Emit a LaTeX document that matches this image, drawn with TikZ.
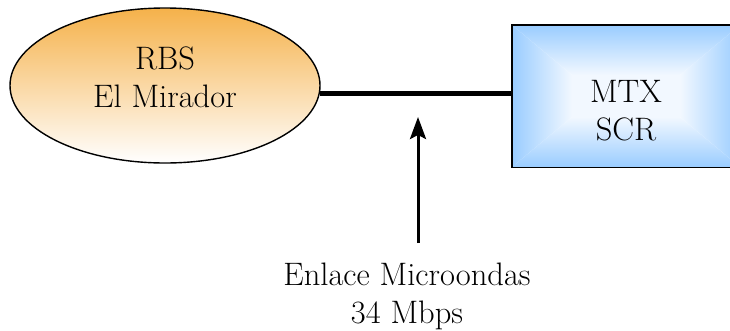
\documentclass[tikz,border=0pt]{standalone}
\usetikzlibrary{arrows.meta,shapes.geometric}
\definecolor{orangetop}{HTML}{F5B14A}
\definecolor{bluedge}{HTML}{99CCFF}
\definecolor{bluemid}{HTML}{F2F8FF}
\tikzset{
  lbl/.style={align=center,font=\rmfamily\fontsize{32.5}{38}\selectfont,inner sep=0pt},
  rbsshape/.style={ellipse,draw=black,line width=1.4pt,minimum width=310pt,minimum height=155pt,inner sep=0pt,top color=orangetop,bottom color=white},
  mtxshape/.style={rectangle,minimum width=228pt,minimum height=142pt,inner sep=0pt},
  link/.style={line width=5pt},
  ptr/.style={line width=3pt,-{Stealth[length=22pt,width=16pt,inset=4pt]}}
}
\begin{document}
\begin{tikzpicture}[x=1pt,y=-1pt]
\useasboundingbox (0,0) rectangle (730,330);
\clip (0,0) rectangle (730,330);
% RBS ellipse
\node[rbsshape] (rbs) at (165,85.5) {};
\node[lbl] (rbslbl) at (165,77) {RBS\\El Mirador};
% MTX box with bevel shading
\node[mtxshape] (mtx) at (626,96) {};
\fill[bluemid] (572,75) rectangle (680,117);
\shade[top color=bluedge,bottom color=bluemid] (mtx.north west) -- (mtx.north east) -- (680,75) -- (572,75) -- cycle;
\shade[top color=bluemid,bottom color=bluedge] (mtx.south west) -- (mtx.south east) -- (680,117) -- (572,117) -- cycle;
\shade[left color=bluedge,right color=bluemid] (mtx.north west) -- (572,75) -- (572,117) -- (mtx.south west) -- cycle;
\shade[left color=bluemid,right color=bluedge] (mtx.north east) -- (680,75) -- (680,117) -- (mtx.south east) -- cycle;
\draw[line width=1.4pt] (mtx.north west) rectangle (mtx.south east);
\node[lbl] (mtxlbl) at (626,111) {MTX\\SCR};
% link
\draw[link] (rbs.-3.7) -- (rbs.-3.7 -| mtx.west);
% pointer
\coordinate (tail) at (418,243);
\coordinate (tip) at (418,117);
\draw[ptr] (tail) -- (tip);
\node[lbl] (linklbl) at (407,296) {Enlace Microondas\\34 Mbps};
\end{tikzpicture}
\end{document}
